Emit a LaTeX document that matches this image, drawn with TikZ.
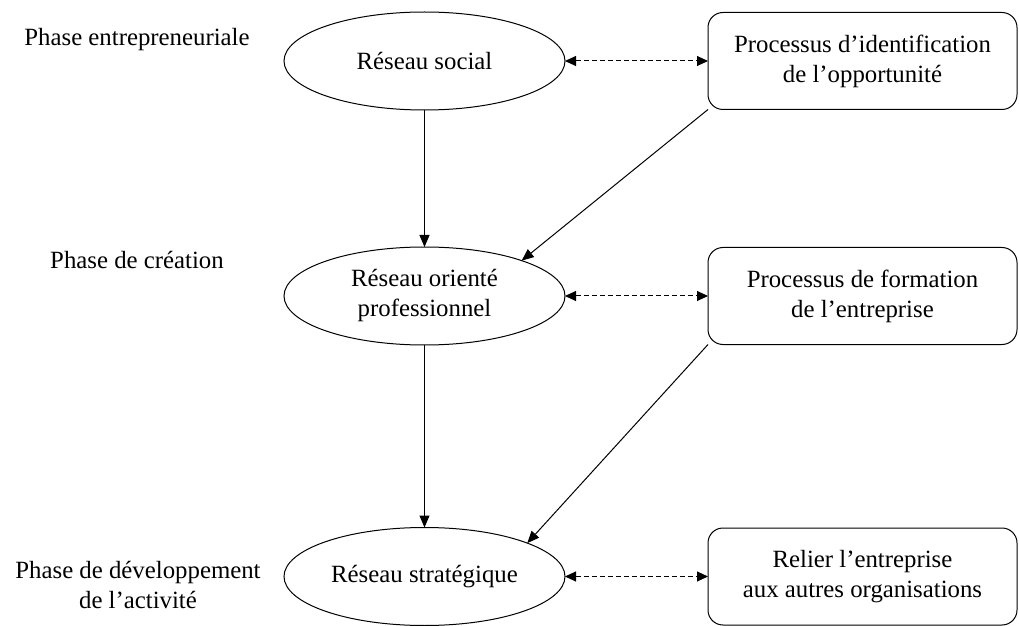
\documentclass[tikz,border=0pt]{standalone}
\usepackage{fontspec}
\setmainfont{Liberation Serif}
\usetikzlibrary{shapes.geometric,arrows.meta}
\tikzstyle{reseau}=[ellipse, draw, inner sep=0pt, outer sep=0pt, minimum width=140.5pt, minimum height=49pt, align=center]
\tikzstyle{processus}=[rectangle, draw, rounded corners=7.5pt, inner sep=0pt, outer sep=0pt, minimum width=154.5pt, minimum height=48.5pt, align=center]
\tikzstyle{phase}=[align=center, inner sep=0pt]
\tikzstyle{fleche}=[line width=0.5pt, -{Triangle[length=6pt,width=5pt]}]
\tikzstyle{lien}=[line width=0.5pt, dash pattern=on 2.5pt off 1.5pt, {Triangle[length=5.5pt,width=5pt]}-{Triangle[length=5.5pt,width=5pt]}]

\begin{document}
\begin{tikzpicture}[x=0.5pt,y=-0.5pt,font=\fontsize{12.4}{15}\selectfont,line width=0.5pt]
		\useasboundingbox (0,0) rectangle (1019,626);
		\node[phase] (p1) at (137,40) {Phase entrepreneuriale};
		\node[phase] (p2) at (137,260) {Phase de création};
		\node[phase] (p3) at (138,585) {Phase de développement\\de l’activité};
		\node[reseau] (e1) at (424.5,61) {Réseau social};
		\node[reseau] (e2) at (424.5,296) {Réseau orienté\\professionnel};
		\node[reseau] (e3) at (424.5,576.5) {Réseau stratégique};
		\node[processus] (b1) at (862.5,61) {Processus d’identification\\de l’opportunité};
		\node[processus] (b2) at (862.5,296) {Processus de formation\\de l’entreprise};
		\node[processus] (b3) at (862.5,576.5) {Relier l’entreprise\\aux autres organisations};
		\path[fleche] (e1)edge(e2) (e2)edge(e3) (b1.south west)edge(e2.20) (b2.south west)edge(e3.18);
		\path[lien] (e1)edge(b1) (e2)edge(b2) (e3)edge(b3);
	\end{tikzpicture}
\end{document}
